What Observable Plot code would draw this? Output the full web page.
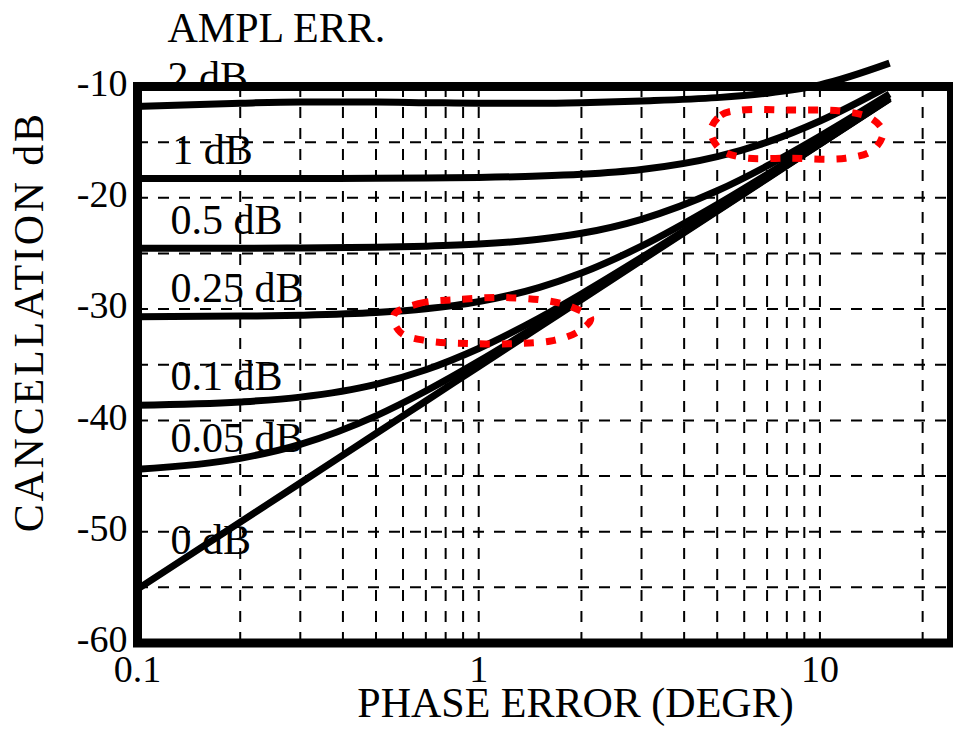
<!DOCTYPE html>
<html><head><meta charset="utf-8">
<script src="https://cdn.jsdelivr.net/npm/d3@7"></script>
<script src="https://cdn.jsdelivr.net/npm/@observablehq/plot@0.6"></script>
<style>html,body{margin:0;padding:0;background:#fff}</style>
</head><body><div id="chart"></div>
<script>
// Phase error (degrees) at which each curve was read
const phase = [0.1, 0.2, 0.3, 0.5, 0.7, 1, 1.5, 2, 3, 5, 7, 10, 16];
// Cancellation (dB) per amplitude error curve
const amp2dB   = [-11.8, -11.5, -11.4, -11.4, -11.45, -11.5, -11.5, -11.45, -11.3, -11.0, -10.6, -9.85, -7.9];
const amp1dB   = [-18.27, -18.27, -18.26, -18.25, -18.22, -18.17, -18.05, -17.89, -17.46, -16.30, -15.00, -13.10, -9.92];
const amp05dB  = [-24.54, -24.53, -24.51, -24.45, -24.35, -24.16, -23.73, -23.19, -21.93, -19.37, -17.14, -14.47, -10.68];
const amp025dB = [-30.68, -30.63, -30.55, -30.31, -29.97, -29.33, -28.07, -26.76, -24.35, -20.61, -17.91, -14.93, -10.94];
const amp01dB  = [-38.63, -38.34, -37.91, -36.76, -35.45, -33.54, -30.82, -28.64, -25.37, -21.06, -18.18, -15.10, -11.05];
const amp005dB = [-44.39, -43.41, -42.15, -39.59, -37.36, -34.69, -31.41, -29.00, -25.54, -21.14, -18.23, -15.14, -11.08];
const amp0dB   = [-55.16, -49.14, -45.62, -41.18, -38.26, -35.16, -31.64, -29.14, -25.62, -21.19, -18.27, -15.17, -11.11];

const seriesNames = ["2 dB", "1 dB", "0.5 dB", "0.25 dB", "0.1 dB", "0.05 dB", "0 dB"];
const seriesValues = [amp2dB, amp1dB, amp05dB, amp025dB, amp01dB, amp005dB, amp0dB];

// Text labels (in data units)
const labelText = ["AMPL ERR.", "2 dB", "1 dB", "0.5 dB", "0.25 dB", "0.1 dB", "0.05 dB", "0 dB"];
const labelX = [0.1224, 0.1224, 0.1265, 0.125, 0.125, 0.125, 0.125, 0.125];
const labelY = [-4.79, -9.19, -15.75, -22.04, -28.19, -36.06, -41.63, -50.79];

// Axis ticks and grid
const xTicks = [0.1, 1, 10];
const yTicks = [-60, -50, -40, -30, -20, -10];
const xGrid = [0.2, 0.3, 0.4, 0.5, 0.6, 0.7, 0.8, 0.9, 1, 2, 3, 4, 5, 6, 7, 8, 9, 10, 20];
const yGrid = [-55, -50, -45, -40, -35, -30, -25, -20, -15];

// Red dotted highlight loops
const loop1X = [0.563, 0.667, 0.873, 1.16, 1.57, 1.86, 2.13, 1.96, 1.65, 1.28, 0.947, 0.70, 0.59];
const loop1Y = [-30.58, -29.5, -29.14, -28.96, -29.23, -29.77, -30.85, -32.02, -32.83, -33.10, -33.10, -32.83, -32.1];
const loop2X = [4.79, 5.13, 5.87, 8.22, 11.5, 14.1, 15.3, 14.3, 11.9, 8.22, 5.87, 5.06];
const loop2Y = [-13.92, -12.57, -12.12, -12.12, -12.21, -12.84, -14.10, -15.72, -16.44, -16.44, -16.35, -15.54];

const rows = seriesNames.flatMap((name, i) => phase.map((p, j) => ({name, phase: p, db: seriesValues[i][j]})));
const labels = labelText.map((t, i) => ({t, x: labelX[i], y: labelY[i]}));
const loops = [
  ...loop1X.map((x, i) => ({loop: "a", x, y: loop1Y[i]})),
  ...loop2X.map((x, i) => ({loop: "b", x, y: loop2Y[i]}))
];

const font = "Liberation Serif, Times New Roman, serif";
const gridStyle = {stroke: "black", strokeOpacity: 1, strokeWidth: 2, strokeDasharray: "11,10"};

const chart = Plot.plot({
  width: 953,
  height: 734,
  marginTop: 86,
  marginBottom: 91.5,
  marginLeft: 137,
  marginRight: 2,
  style: {fontFamily: font, background: "white", color: "black"},
  x: {type: "log", domain: [0.1, 24.3]},
  y: {domain: [-60, -10]},
  marks: [
    Plot.gridX(xGrid, gridStyle),
    Plot.gridY(yGrid, gridStyle),
    Plot.axisX(xTicks, {tickFormat: d => String(d), tickSize: 0, tickPadding: 12, fontSize: 38, label: null}),
    Plot.axisY(yTicks, {tickFormat: d => String(d), tickSize: 0, tickPadding: 10, fontSize: 38, dy: -3, label: null}),
    Plot.text(labels, {x: "x", y: "y", text: "t", textAnchor: "start", fontSize: 42, fill: "black"}),
    Plot.line(rows, {x: "phase", y: "db", z: "name", stroke: "black", strokeWidth: 7, curve: "monotone-x", strokeLinecap: "butt"}),
    Plot.frame({stroke: "black", strokeWidth: 9}),
    Plot.line(loops, {x: "x", y: "y", z: "loop", stroke: "#ff0000", strokeWidth: 7, strokeDasharray: "10,12", curve: "catmull-rom-closed", strokeLinecap: "butt"}),
    Plot.text(["PHASE ERROR (DEGR)"], {frameAnchor: "bottom", textAnchor: "middle", dx: 31, dy: 74, fontSize: 42, fill: "black"}),
    Plot.text(["CANCELLATION dB"], {frameAnchor: "left", textAnchor: "middle", rotate: -90, dx: -108, dy: -43, fontSize: 42, fill: "black", className: "ylabel"})
  ]
});
d3.select(chart).selectAll(".ylabel text").style("letter-spacing", "2.8px");
document.getElementById("chart").appendChild(chart);
</script>
</body></html>
